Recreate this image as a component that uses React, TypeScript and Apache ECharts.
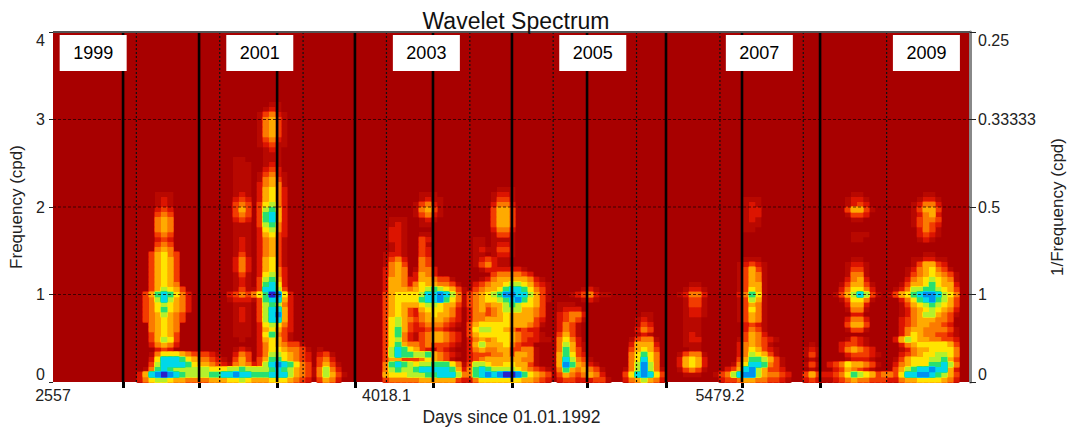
import React, { useEffect, useRef } from "react";
import * as echarts from "echarts";

// ---- axes and marks (days since 01.01.1992, frequency in cpd) ----
const dayMin = 2557;
const dayMax = 6575;
const xLabelDays = [2557, 4018.1, 5479.2];
const gridDays = [2922.3, 3287.5, 3652.8, 4018.1, 4383.4, 4748.6, 5113.9, 5479.2, 5844.5, 6209.7];
const yearDays = [2864, 3197, 3539, 3880, 4222, 4568, 4897, 5243, 5576, 5918];
const freqGrid = [1, 2, 3];
const periodLabels: Record<number, string> = { 0: "0", 1: "1", 2: "0.5", 3: "0.33333", 4: "0.25" };
const yearNames = ["1999", "2001", "2003", "2005", "2007", "2009"];
const yearNameDays = [2733, 3463, 4193, 4922, 5652, 6384];
const yearNameFreq = 3.76;

// ---- spectrum cells: one char per cell, level 0-b ----
const cellDays = 4018 / (917 / 6);
const cellFreq = 4 / 70;
const levelColors = ["#a80000", "#b80800", "#dc1400", "#f23c00", "#fb7a00", "#ffaa00", "#ffe400", "#b4f02c", "#28e070", "#00d8e8", "#0090f0", "#2a20c8"];

type Patch = [number, number, string[]];

const blob1999: Patch = [14, 37, [
  "000111000", "000121000", "000121000", "000232000", "000343000", "000454000", "000454000", "000454000",
  "000343000", "000232000", "000343000", "000454000", "003564300", "003565300", "003565300", "003565300",
  "003565300", "003565300", "003565400", "003576530", "035898642", "034797542", "034676542", "034686542",
  "034575430", "034565430", "004565400", "004565400", "003565300", "003576300", "002454200", "000232000",
]];
const base2000: Patch = [14, 7, [
  "00000 00000 00000 00000 00444 33100 00000",
  "00000 00000 00000 01210 00555 44310 10000",
  "00146 66543 33210 02430 00566 54320 23100",
  "00269 99865 44321 03530 00676 54320 34200",
  "00379 99986 55432 14542 34699 86430 35310",
  "01489 87777 77666 77877 77898 75431 47420",
  "259ab a9877 77889 9a998 88999 75431 47531",
  "24677 65544 44555 66765 55666 54320 35420",
]];
const spire2001: Patch = [33, 55, [
  "0001100", "0012100", "0134210", "0145310", "0145310", "0145310", "0145310", "0134210", "0123110",
  "0012100", "0011100", "0011100", "0012100", "0023200", "0134210", "0145310", "0245410", "0256420",
  "0256420", "0256420", "0367420", "0378520", "0389520", "0389520", "0378420", "0267420", "0256320",
  "0245310", "0245310", "0245310", "0245310", "0256310", "0256310", "0256420", "0267420", "0378520",
  "0389620", "0399730", "368ba62", "0389952", "0378742", "0379952", "0379a52", "0379952", "0267642",
  "0256532", "0268431", "0256531", "0246531", "0246643", "0247743", "0358854", "0379a76",
]];
const spireSide: Patch = [31, 18, ["001", "134", "001"]];
const faint2000: Patch = [29, 44, [
  "01100", "01110", "01110", "01110", "01110", "01110", "01110", "01210", "02320", "03430", "03530", "03430",
  "02320", "01110", "01110", "01110", "01210", "01210", "01210", "01310", "02420", "02420", "02420", "01310",
  "01210", "01210", "01310", "23432", "12221", "01110", "01210", "01210", "01210", "01110", "01110", "01110", "00100",
]];
const tower2003: Patch = [54, 37, [
  "00000 00111 00000", "00000 00121 10000", "00000 01342 10000", "00000 01453 10000", "00000 01342 10000",
  "00111 00121 00000", "00121 00110 00000", "00221 00000 00000", "00221 00110 00000", "00221 00320 00000",
  "00121 00310 00000", "00121 00320 00000", "01221 00320 00000", "01342 00430 00000", "01453 00430 00000",
  "02454 01442 00000", "02454 02542 00000", "02554 22554 33100", "02554 24655 44310", "02555 45678 76531",
  "03566 66799 a9741", "03566 66899 a8641", "03565 55677 65531", "03565 32566 65420", "03565 32456 55420",
  "03675 43455 54320", "03675 32344 43210", "03685 32233 32100", "03684 21345 54320", "03674 21345 54320",
  "03685 44343 33210", "03798 65321 32100", "03798 87785 43210", "03553 33465 43100", "04898 76778 88641",
  "04787 78999 99852", "05666 77788 99974", "03444 44555 55532",
]];
const mass2004: Patch = [68, 38, [
  "00000 01110 00000", "00000 12210 00000", "00000 13310 00000", "00000 24420 00000", "00000 35530 00000",
  "00000 35530 00000", "00000 35530 00000", "00000 35530 00000", "00000 24420 00000", "00000 13310 00000",
  "00110 11110 00000", "00110 12210 00000", "00121 13310 00000", "00110 12210 00000", "00123 21100 00000",
  "00134 21100 00000", "00012 22222 10000", "00000 34444 32000", "00012 45555 54210", "00234 55677 65321",
  "00345 56899 86431", "13456 78aa9 97531", "13456 6789a 86531", "13454 55787 66530", "02453 45777 55430",
  "02443 45655 55430", "02445 55655 55320", "03566 66655 54310", "03677 66542 32200", "03566 66654 33210",
  "02454 56654 32211", "02575 55643 22000", "02454 45533 44100", "02333 44535 54100", "02345 55555 44100",
  "03776 55665 53100", "04898 77776 54321", "0489a 9abba 86543", "02466 66666 55432",
]];
const tail2005: Patch = [83, 15, [
  "01110 00000", "01222 00000", "02344 20000", "02343 10000", "02431 00000", "02431 00000", "03531 00000", "04642 00000",
  "04752 10000", "04853 10000", "05863 20000", "05974 31000", "05a85 42100", "04854 54310", "03543 45420", "02332 22331",
]];
const tick2005: Patch = [84, 18, ["0000121000", "0012342110", "0000121000"]];
const spire2006: Patch = [95, 13, [
  "0001100", "0012100", "0013200", "0024300", "0012100", "0134410", "0255520", "0356530", "0468640", "0469640",
  "047a740", "147a741", "369a963", "2457542",
]];
const faint2006: Patch = [103, 19, [
  "0001100", "0012210", "0124420", "0013310", "0013310", "0012210", "0012210", "0011100", "0011100", "0011100",
  "0012100", "0012200", "0011100", "0001100", "0134410", "0256520", "0256520", "0134310", "0011100",
]];
const tower2007: Patch = [110, 36, [
  "00000 11100 000", "00000 12100 000", "00000 12200 000", "00000 12200 000", "00000 12100 000", "00000 11100 000",
  "00000 11000 000", "", "", "", "", "", "00000 11100 000", "00001 23210 000", "00001 35310 000", "00001 35410 000",
  "00001 35410 000", "00001 35510 000", "00001 36510 000", "00002 48610 000", "00001 37510 000", "00001 35410 000",
  "00001 36410 000", "00001 35410 000", "00001 35410 000", "00000 23210 000", "00000 24310 000", "00000 35420 000",
  "00001 35432 100", "00002 45431 000", "00002 46532 100", "00002 47653 100", "00003 58875 310", "00014 69984 310",
  "00235 9a753 320", "13479 aa754 432", "02334 55443 321",
]];
const tower2008: Patch = [124, 37, [
  "00000 00001 10000 00", "00000 00012 21000 00", "00000 00012 32000 00", "00000 00035 53100 00", "00000 00013 32000 00",
  "00000 00001 10000 00", "", "", "00000 00001 11000 00", "00000 00001 10000 00", "", "", "",
  "00000 00001 10000 00", "00000 00012 21000 00", "00000 00013 31000 00", "00000 00014 41000 00", "00000 00024 52000 00",
  "00000 00135 53100 00", "00000 00246 64200 00", "00000 01357 97310 00", "00000 00136 64100 00", "00000 00025 52000 00",
  "00000 00014 41000 00", "00000 00002 20000 00", "00000 00024 42000 00", "00000 00035 53000 00", "00000 00013 31000 00",
  "", "00000 00013 21000 00", "00100 00233 21000 00", "01210 00245 43200 00", "01310 00023 33210 00", "00100 00012 22100 00",
  "01310 23465 54310 00", "00100 02354 32100 00", "03532 23468 76534 43", "02321 12345 44333 22",
]];
const tower2009: Patch = [139, 37, [
  "00000 01100 00", "00000 12210 00", "00001 24420 00", "00001 35530 00", "00001 24520 00", "00001 34430 00", "00001 34320 00",
  "00000 24310 00", "00000 23210 00", "00000 12100 00", "", "", "00000 01100 00", "00001 12211 00", "00001 35532 00",
  "00012 45643 10", "00013 45654 31", "00024 56765 41", "00135 56865 52", "01247 78876 53", "13568 9aa97 64", "00246 89a87 53",
  "00135 67876 53", "00124 56765 42", "00124 57754 31", "00234 55544 30", "00234 55443 20", "00245 54444 31", "00246 54433 21",
  "02576 55443 32", "00245 66666 53", "00124 55666 64", "00234 56677 64", "01356 66778 53", "02456 66889 74", "03578 99a99 52",
  "03699 aa987 53", "02455 66665 42",
]];

const patches = [blob1999, base2000, spire2001, spireSide, faint2000, tower2003, mass2004, tail2005, tick2005, spire2006, faint2006, tower2007, tower2008, tower2009];

// Rows: [day, frequency, level, pass]; pass 0 = soft contour, pass 1 = the cell itself.
function buildCells() {
  const cells = new Map<string, number>();
  for (const [firstCol, topRow, rows] of patches) {
    rows.forEach((text, i) => {
      const row = topRow - i;
      text.replace(/ /g, "").split("").forEach((ch, j) => {
        const level = parseInt(ch, 16);
        const key = `${firstCol + j}:${row}`;
        if (level > (cells.get(key) ?? 0)) cells.set(key, level);
      });
    });
  }
  const list = Array.from(cells.entries())
    .map(([key, level]) => {
      const [col, row] = key.split(":").map(Number);
      return [dayMin + col * cellDays, row * cellFreq, level];
    })
    .filter((c) => c[2] > 0);
  const out: number[][] = [];
  for (let level = 1; level < levelColors.length; level++) {
    const same = list.filter((c) => c[2] === level);
    same.forEach((c) => out.push([c[0], c[1], level, 0]));
    same.forEach((c) => out.push([c[0], c[1], level, 1]));
  }
  return out;
}

const FONT = "Liberation Sans";
const TICK = "#222";

export default function App() {
  const ref = useRef<HTMLDivElement>(null);
  useEffect(() => {
    const chart = echarts.init(ref.current!, undefined, { renderer: "svg" });
    const vLine = (day: number) => [[day, 0], [day, 4]];
    const hLine = (f: number) => [[dayMin, f], [dayMax, f]];
    const lineSeries = (data: number[][], width: number, type: any, color: string, z: number) => ({
      type: "line", data, symbol: "none", silent: true, z, xAxisIndex: 0, yAxisIndex: 0,
      lineStyle: { color, width, type },
    });
    chart.setOption({
      animation: false,
      backgroundColor: "#fff",
      title: {
        text: "Wavelet Spectrum", left: 511, top: 4, textAlign: "center",
        textStyle: { fontFamily: FONT, fontSize: 23, fontWeight: "normal", color: "#111" },
      },
      grid: { left: 53, top: 32, width: 917, height: 350, show: true, backgroundColor: levelColors[0], borderWidth: 0, outerBoundsMode: "none" },
      xAxis: {
        type: "value", min: dayMin, max: dayMax, position: "bottom",
        name: "Days since 01.01.1992", nameLocation: "middle", nameGap: 24,
        nameTextStyle: { fontFamily: FONT, fontSize: 17.5, color: "#222" },
        splitLine: { show: false },
        axisLine: { show: false },
        axisTick: { show: true, length: 6, customValues: yearDays, lineStyle: { color: "#000", width: 3 } },
        axisLabel: { show: true, customValues: xLabelDays, margin: 5, fontFamily: FONT, fontSize: 16, color: "#222", formatter: (v: number) => String(v) },
      },
      yAxis: [
        {
          type: "value", min: 0, max: 4, interval: 1, position: "left",
          name: "Frequency (cpd)", nameLocation: "middle", nameGap: 27, nameRotate: 90,
          nameTextStyle: { fontFamily: FONT, fontSize: 17, color: "#222" },
          splitLine: { show: false },
          axisLine: { show: false },
          axisTick: { show: true, length: 4, lineStyle: { color: TICK, width: 1 } },
          axisLabel: { margin: 8, fontFamily: FONT, fontSize: 16, color: "#222", verticalAlignMinLabel: "bottom", verticalAlignMaxLabel: "top" },
        },
        {
          type: "value", min: 0, max: 4, interval: 1, position: "right",
          name: "1/Frequency (cpd)", nameLocation: "middle", nameGap: 79, nameRotate: 90,
          nameTextStyle: { fontFamily: FONT, fontSize: 17, color: "#222" },
          splitLine: { show: false },
          axisLine: { show: true, lineStyle: { color: "#888", width: 3 } },
          axisTick: { show: true, length: 6, lineStyle: { color: TICK, width: 1 } },
          axisLabel: {
            margin: 8, fontFamily: FONT, fontSize: 16, color: "#222",
            verticalAlignMinLabel: "bottom", verticalAlignMaxLabel: "top",
            formatter: (v: number) => periodLabels[v] ?? "",
          },
        },
      ],
      series: [
        {
          type: "custom", silent: true, z: 2, clip: true,
          data: buildCells(), encode: { x: 0, y: 1 },
          renderItem: (_: any, api: any) => {
            const a = api.coord([api.value(0), api.value(1) + cellFreq]);
            const b = api.coord([api.value(0) + cellDays, api.value(1)]);
            const level = api.value(2);
            const w = b[0] - a[0];
            const h = b[1] - a[1];
            if (api.value(3) === 0) {
              const halo = levelColors[level - 1];
              return { type: "rect", shape: { x: a[0] - 1, y: a[1] - 1, width: w + 2, height: h + 2, r: 2 }, style: { fill: halo } };
            }
            return { type: "rect", shape: { x: a[0], y: a[1], width: w + 0.3, height: h + 0.3 }, style: { fill: levelColors[level] } };
          },
        },
        ...gridDays.map((d) => lineSeries(vLine(d), 1.2, [2, 2], "#111", 3)),
        ...freqGrid.map((f) => lineSeries(hLine(f), 1, [3, 2], "rgba(30,0,0,0.75)", 3)),
        ...yearDays.map((d) => lineSeries(vLine(d), 2.6, "solid", "#050000", 4)),
        lineSeries(hLine(4), 2, "solid", "#555", 4),
        {
          type: "scatter", silent: true, z: 6, symbolSize: 1, xAxisIndex: 0, yAxisIndex: 0,
          itemStyle: { opacity: 1 },
          data: yearNames.map((name, i) => ({ name, value: [yearNameDays[i], yearNameFreq] })),
          label: {
            show: true, position: "inside", formatter: "{b}", backgroundColor: "#fff", opacity: 1,
            width: 67, height: 36, lineHeight: 36, align: "center", verticalAlign: "middle",
            fontFamily: FONT, fontSize: 18, color: "#000",
          },
        },
      ],
    });
    return () => chart.dispose();
  }, []);
  return <div ref={ref} style={{ position: "absolute", left: 0, top: 0, width: 1070, height: 429 }} />;
}
